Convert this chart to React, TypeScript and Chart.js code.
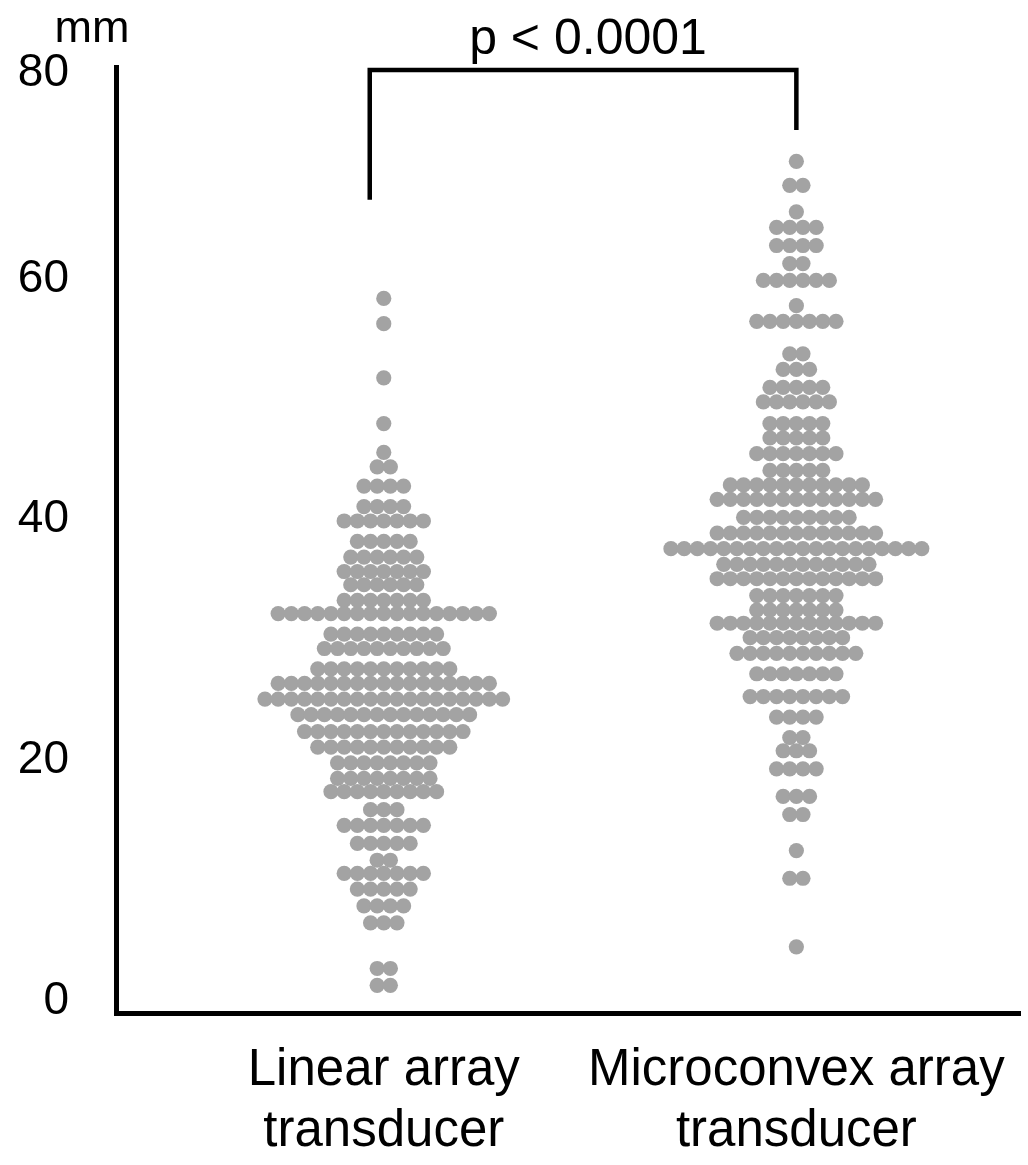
import React, { useEffect, useRef } from "react";
import { Chart, registerables } from "chart.js";

Chart.register(...registerables);

// ---- data ----
const categories = [
  ["Linear array", "transducer"],
  ["Microconvex array", "transducer"],
];
const groupPositions = [1, 2];

// Linear array transducer: measured value of each swarm row, and number of dots in it
const linearLevels = [
  58.4, 56.3, 51.8, 48.0, 45.6, 44.4, 42.8, 41.1, 39.9, 38.2, 36.9, 35.7, 34.6, 33.3,
  32.2, 30.5, 29.3, 27.6, 26.4, 25.1, 23.8, 22.4, 21.1, 19.8, 18.5, 17.4, 15.9, 14.6,
  13.1, 11.7, 10.6, 9.3, 7.9, 6.5, 2.7, 1.3,
];
const linearCounts = [
  1, 1, 1, 1, 1, 2, 4, 4, 7, 5, 6, 7, 6, 7,
  17, 9, 10, 11, 17, 19, 14, 13, 11, 8, 8, 9, 3, 7,
  5, 2, 7, 5, 4, 3, 2, 2,
];

// Microconvex array transducer
const microLevels = [
  69.8, 67.8, 65.6, 64.3, 62.8, 61.3, 59.9, 57.8, 56.5, 53.8, 52.5, 51.0, 49.8, 48.0,
  46.8, 45.5, 44.1, 42.9, 41.7, 40.2, 38.9, 37.6, 36.3, 35.1, 33.7, 32.5, 31.4, 30.2,
  28.9, 27.2, 25.3, 23.6, 21.9, 20.8, 19.3, 17.0, 15.5, 12.5, 10.2, 4.5,
];
const microCounts = [
  1, 2, 1, 4, 4, 2, 6, 1, 7, 2, 3, 5, 6, 5,
  5, 7, 5, 11, 13, 9, 13, 20, 12, 13, 7, 7, 13, 8,
  10, 7, 8, 4, 2, 3, 4, 3, 2, 1, 2, 1,
];

const yTickValues = [0, 20, 40, 60, 80];
const unitLabel = "mm";
const pValueLabel = "p < 0.0001";
const bracketX = [0.966, 2.0];
const bracketYTop = 77.4;
const bracketYBottom = [66.6, 72.4];
const pLabelX = 1.495;
const pLabelY = 78.7;

// ---- styling ----
const FONT = '"Liberation Sans", Arial, sans-serif';
const DOT_COLOR = "#a3a3a3";
const DOT_STEP = 0.032; // horizontal spacing of swarm dots in x-axis units
const DOT_RADIUS = 7.6;

function swarm(center: number, levels: number[], counts: number[], step: number) {
  const pts: { x: number; y: number }[] = [];
  levels.forEach((v, r) => {
    const n = counts[r];
    for (let i = 0; i < n; i++) {
      pts.push({ x: center + (i - (n - 1) / 2) * step, y: v });
    }
  });
  return pts;
}

const annotationPlugin = {
  id: "annotations",
  afterDraw(chart: any) {
    const { ctx, scales, chartArea } = chart;
    const x = scales.x;
    const y = scales.y;
    ctx.save();
    ctx.strokeStyle = "#000";
    ctx.lineWidth = 4.5;
    ctx.lineJoin = "miter";
    ctx.beginPath();
    ctx.moveTo(x.getPixelForValue(bracketX[0]), y.getPixelForValue(bracketYBottom[0]));
    ctx.lineTo(x.getPixelForValue(bracketX[0]), y.getPixelForValue(bracketYTop));
    ctx.lineTo(x.getPixelForValue(bracketX[1]), y.getPixelForValue(bracketYTop));
    ctx.lineTo(x.getPixelForValue(bracketX[1]), y.getPixelForValue(bracketYBottom[1]));
    ctx.stroke();

    ctx.fillStyle = "#000";
    ctx.textAlign = "center";
    ctx.textBaseline = "alphabetic";
    ctx.font = `50px ${FONT}`;
    ctx.fillText(pValueLabel, x.getPixelForValue(pLabelX), y.getPixelForValue(pLabelY));
    ctx.font = `45px ${FONT}`;
    ctx.fillText(unitLabel, chartArea.left - 24, chartArea.top - 25);
    ctx.restore();
  },
};

export default function App() {
  const canvasRef = useRef<HTMLCanvasElement | null>(null);

  useEffect(() => {
    if (!canvasRef.current) return;
    const chart = new Chart(canvasRef.current, {
      type: "scatter",
      data: {
        datasets: [
          {
            data: swarm(groupPositions[0], linearLevels, linearCounts, DOT_STEP),
            backgroundColor: DOT_COLOR,
            borderWidth: 0,
            pointRadius: DOT_RADIUS,
            pointHoverRadius: DOT_RADIUS,
          },
          {
            data: swarm(groupPositions[1], microLevels, microCounts, DOT_STEP),
            backgroundColor: DOT_COLOR,
            borderWidth: 0,
            pointRadius: DOT_RADIUS,
            pointHoverRadius: DOT_RADIUS,
          },
        ],
      },
      options: {
        animation: false,
        responsive: false,
        devicePixelRatio: 1,
        events: [],
        layout: { padding: { top: 67, left: 0, right: 0, bottom: 0 } },
        plugins: { legend: { display: false }, tooltip: { enabled: false } },
        scales: {
          x: {
            type: "linear",
            min: 0.351,
            max: 2.543,
            grid: { display: false, drawTicks: false },
            border: { display: true, color: "#000", width: 5 },
            afterBuildTicks: (axis: any) => {
              axis.ticks = groupPositions.map((v) => ({ value: v }));
            },
            ticks: {
              autoSkip: false,
              maxRotation: 0,
              color: "#000",
              padding: 27,
              font: { family: FONT, size: 51, lineHeight: 1.2 },
              callback: (_v: any, i: number) => categories[i],
            },
            afterFit: (axis: any) => {
              axis.height = 152;
              axis.paddingLeft = 0;
              axis.paddingRight = 0;
            },
          },
          y: {
            type: "linear",
            min: -1,
            max: 77.64,
            grid: { display: false, drawTicks: false },
            border: { display: true, color: "#000", width: 5 },
            afterBuildTicks: (axis: any) => {
              // the top label sits just below the end of the axis line
              axis.ticks = yTickValues.map((v) => ({ value: Math.min(v, axis.max - 0.55) }));
            },
            ticks: {
              autoSkip: false,
              color: "#000",
              padding: 47,
              font: { family: FONT, size: 46 },
              callback: (_v: any, i: number) => String(yTickValues[i]),
            },
            afterFit: (axis: any) => {
              axis.width = 116;
              axis.paddingTop = 0;
              axis.paddingBottom = 0;
            },
          },
        },
      } as any,
      plugins: [annotationPlugin],
    });
    return () => chart.destroy();
  }, []);

  return (
    <div style={{ position: "absolute", left: 0, top: 0, width: 1028, height: 1165, background: "#fff" }}>
      <canvas ref={canvasRef} width={1028} height={1165} style={{ display: "block" }} />
    </div>
  );
}
